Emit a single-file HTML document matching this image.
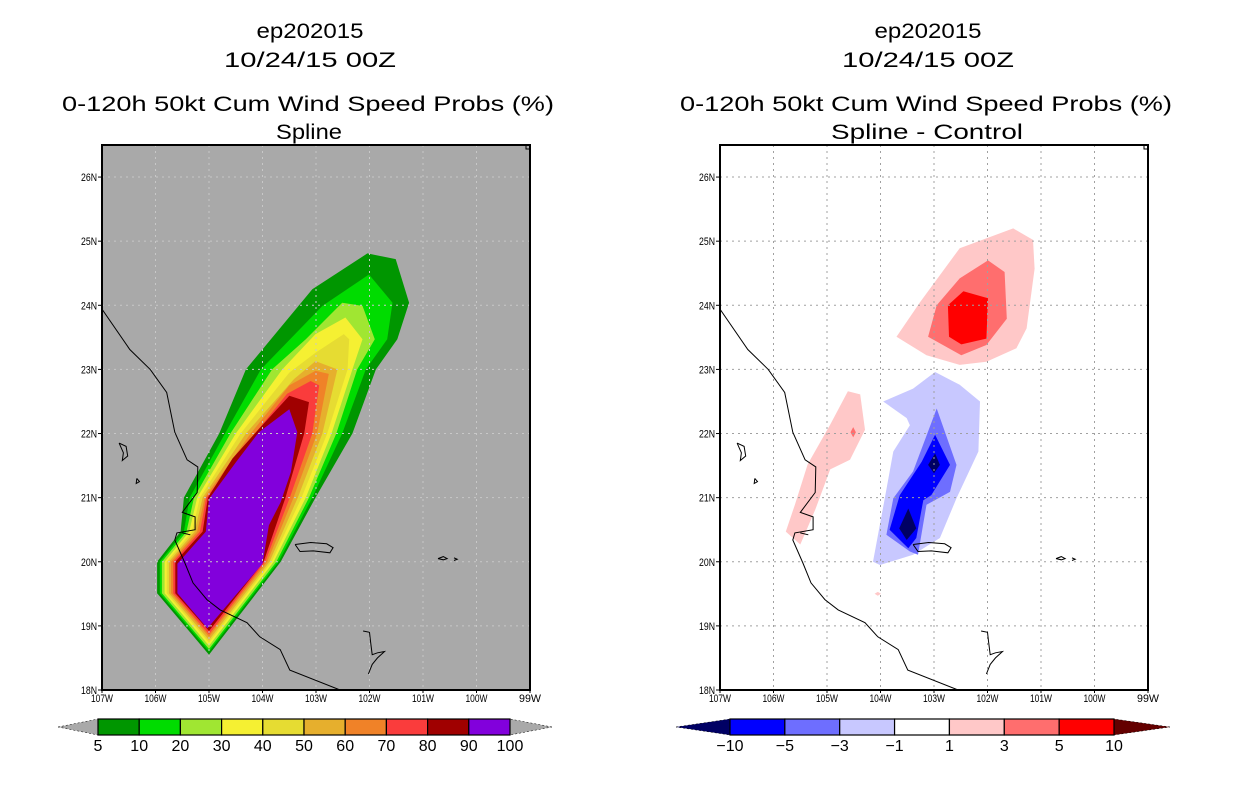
<!DOCTYPE html>
<html><head><meta charset="utf-8"><style>
html,body{margin:0;padding:0;background:#fff;}
svg{display:block;font-family:"Liberation Sans",sans-serif;}
</style></head><body>
<svg id="fig" width="1236" height="800" viewBox="0 0 1236 800" xmlns="http://www.w3.org/2000/svg">
<g text-anchor="middle" font-size="21" fill="#000">
<text x="310" y="38" textLength="107" lengthAdjust="spacingAndGlyphs">ep202015</text>
<text x="310" y="67" textLength="172" lengthAdjust="spacingAndGlyphs">10/24/15 00Z</text>
<text x="308" y="111" textLength="492" lengthAdjust="spacingAndGlyphs">0-120h 50kt Cum Wind Speed Probs (%)</text>
<text x="309" y="139" textLength="66" lengthAdjust="spacingAndGlyphs">Spline</text>
</g>
<g text-anchor="middle" font-size="21" fill="#000">
<text x="928" y="38" textLength="107" lengthAdjust="spacingAndGlyphs">ep202015</text>
<text x="928" y="67" textLength="172" lengthAdjust="spacingAndGlyphs">10/24/15 00Z</text>
<text x="926" y="111" textLength="492" lengthAdjust="spacingAndGlyphs">0-120h 50kt Cum Wind Speed Probs (%)</text>
<text x="927" y="139" textLength="192" lengthAdjust="spacingAndGlyphs">Spline - Control</text>
</g>
<g id="mapL"></g>
<g id="mapR"></g>
<g id="cbL"></g>
<g id="cbR"></g>
</svg>
<script>
// ---------- data ----------
const lonTicks = [-107,-106,-105,-104,-103,-102,-101,-100,-99];
const latTicks = [18,19,20,21,22,23,24,25,26];
const probLevels = [5,10,20,30,40,50,60,70,80,90,100];
const probColors = ["#009600","#00dc00","#a0e632","#f5f032","#e6dc32","#e6af2d","#f08228","#fa3c3c","#a00000","#8200dc"];
// probability contour polygons [lon,lat], >=5, >=10, ... >=90
const prob5 = [[-105.97,20.00],[-105.97,19.51],[-105.0,18.55],[-103.66,20.00],[-103.01,21.00],[-102.32,22.00],[-101.88,23.0],[-101.48,23.47],[-101.26,24.04],[-101.51,24.72],[-102.04,24.81],[-103.07,24.25],[-104.31,23.0],[-104.81,22.00],[-105.47,21.00],[-105.53,20.47]];
const prob10 = [[-105.92,20.00],[-105.92,19.51],[-105.0,18.60],[-103.70,20.00],[-103.07,21.00],[-102.51,22.00],[-102.07,23.0],[-101.67,23.47],[-101.57,24.04],[-102.01,24.48],[-102.88,23.99],[-104.03,23.0],[-104.70,22.00],[-105.36,21.00],[-105.47,20.47]];
const prob20 = [[-105.88,20.00],[-105.88,19.51],[-105.0,18.64],[-103.74,20.00],[-103.13,21.00],[-102.62,22.00],[-102.23,23.0],[-101.90,23.47],[-102.13,23.99],[-102.51,24.04],[-103.19,23.47],[-103.82,23.0],[-104.60,22.00],[-105.28,21.00],[-105.42,20.47]];
const prob30 = [[-105.83,20.00],[-105.83,19.51],[-105.0,18.69],[-103.79,20.00],[-103.19,21.00],[-102.71,22.00],[-102.32,23.0],[-102.13,23.47],[-102.45,23.81],[-103.01,23.55],[-103.63,23.0],[-104.50,22.00],[-105.22,21.00],[-105.37,20.47]];
const prob40 = [[-105.79,20.00],[-105.79,19.51],[-105.0,18.74],[-103.83,20.00],[-103.27,21.00],[-102.79,22.00],[-102.41,23.0],[-102.38,23.47],[-102.48,23.55],[-103.01,23.26],[-103.50,22.95],[-104.41,22.00],[-105.17,21.00],[-105.32,20.47]];
const prob50 = [[-105.75,20.00],[-105.75,19.51],[-105.0,18.78],[-103.87,20.00],[-103.34,21.00],[-102.88,22.00],[-102.60,23.0],[-103.01,23.13],[-103.41,22.85],[-104.31,22.00],[-105.12,21.00],[-105.27,20.47]];
const prob60 = [[-105.71,20.00],[-105.71,19.51],[-105.0,18.83],[-103.91,20.00],[-103.42,21.00],[-102.98,22.00],[-102.76,22.93],[-103.01,22.98],[-103.50,22.75],[-104.22,22.00],[-105.08,21.00],[-105.22,20.47]];
const prob70 = [[-105.67,20.00],[-105.67,19.51],[-105.0,18.87],[-103.95,20.00],[-103.49,21.00],[-103.07,22.00],[-102.94,22.75],[-103.10,22.82],[-103.54,22.62],[-104.14,22.00],[-105.05,21.00],[-105.17,20.47]];
const prob80 = [[-105.63,20.00],[-105.63,19.51],[-105.0,18.92],[-103.98,20.00],[-103.57,21.00],[-103.22,22.00],[-103.13,22.49],[-103.50,22.59],[-104.07,22.07],[-104.56,21.61],[-105.02,21.00],[-105.12,20.47]];
const prob90 = [[-105.59,19.97],[-105.59,19.51],[-105.03,18.96],[-104.0,19.97],[-103.88,20.57],[-103.66,20.93],[-103.47,21.40],[-103.35,22.02],[-103.50,22.38],[-104.07,22.02],[-104.50,21.55],[-105.0,20.98],[-105.06,20.47]];
const probPolys = [prob5,prob10,prob20,prob30,prob40,prob50,prob60,prob70,prob80,prob90];

const diffLevels = [-10,-5,-3,-1,1,3,5,10];
const diffColors = ["#000064","#0000ff","#6e6eff","#c8c8ff","#ffffff","#ffc8c8","#ff6e6e","#ff0000","#640000"];
const diffPos1 = [[-103.70,23.51],[-103.26,24.05],[-102.52,24.89],[-101.52,25.20],[-101.15,25.02],[-101.12,24.57],[-101.27,23.64],[-101.46,23.33],[-102.02,23.12],[-102.52,23.07],[-103.14,23.22]];
const diffPosW = [[-105.77,20.47],[-105.50,20.27],[-105.22,20.81],[-104.94,21.44],[-104.57,21.59],[-104.29,22.06],[-104.38,22.61],[-104.61,22.66],[-104.94,22.14],[-105.36,21.52],[-105.60,20.89]];
const diffPosS = [[-104.05,19.47],[-103.99,19.50],[-104.05,19.53],[-104.11,19.50]];
const diffPos3 = [[-103.11,23.51],[-102.95,24.00],[-102.52,24.42],[-101.99,24.70],[-101.68,24.52],[-101.64,23.79],[-102.02,23.38],[-102.49,23.22]];
const diffPos3W = [[-104.51,22.10],[-104.46,22.02],[-104.51,21.94],[-104.56,22.02]];
const diffPos5 = [[-102.74,24.00],[-102.45,24.22],[-101.99,24.11],[-102.02,23.48],[-102.49,23.39],[-102.72,23.51]];
const diffNeg1 = [[-104.14,20.00],[-103.92,20.99],[-103.76,21.72],[-103.45,22.13],[-103.51,22.24],[-103.95,22.50],[-103.39,22.70],[-102.98,22.96],[-102.52,22.76],[-102.14,22.50],[-102.17,21.72],[-102.58,20.99],[-102.89,20.37],[-103.39,20.11],[-104.01,19.95]];
const diffNeg3 = [[-103.89,20.42],[-103.76,20.99],[-103.39,21.41],[-102.95,22.39],[-102.58,21.51],[-102.70,21.09],[-103.14,20.89],[-103.30,20.11],[-103.45,20.16]];
const diffNeg5 = [[-103.83,20.50],[-103.64,21.04],[-103.23,21.56],[-102.98,21.98],[-102.70,21.51],[-103.05,21.04],[-103.20,20.96],[-103.33,20.37],[-103.48,20.21]];
const diffNeg10a = [[-103.65,20.52],[-103.48,20.83],[-103.33,20.52],[-103.51,20.34]];
const diffNeg10b = [[-103.11,21.51],[-102.98,21.69],[-102.89,21.51],[-103.00,21.38]];
const diffPolys = [[diffPos1,5],[diffPosW,5],[diffPosS,5],[diffPos3,6],[diffPos3W,6],[diffPos5,7],[diffNeg1,3],[diffNeg3,2],[diffNeg5,1],[diffNeg10a,0],[diffNeg10b,0]];

const coast = [[-107.00,23.94],[-106.48,23.31],[-106.10,23.00],[-105.79,22.64],[-105.64,22.02],[-105.41,21.59],[-105.21,21.48],[-105.22,21.08],[-105.50,20.77],[-105.26,20.70],[-105.26,20.50],[-105.60,20.45],[-105.64,20.34],[-105.45,19.98],[-105.30,19.67],[-105.04,19.41],[-104.79,19.25],[-104.29,19.05],[-104.05,18.83],[-103.67,18.63],[-103.49,18.31],[-102.55,18.00]];
const lake = [[-103.39,20.27],[-103.10,20.30],[-102.80,20.28],[-102.68,20.22],[-102.74,20.14],[-103.05,20.17],[-103.30,20.16],[-103.39,20.27]];
const islandA = [[-106.68,21.85],[-106.55,21.80],[-106.52,21.65],[-106.62,21.58],[-106.60,21.70],[-106.68,21.85]];
const islandB = [[-106.35,21.30],[-106.30,21.25],[-106.36,21.22],[-106.35,21.30]];
const islandC = [[-100.72,20.05],[-100.62,20.08],[-100.55,20.05],[-100.62,20.03],[-100.72,20.05]];
const islandD = [[-100.42,20.06],[-100.36,20.04],[-100.42,20.02]];
const islandE = [[-102.12,18.92],[-102.00,18.90],[-101.98,18.75],[-101.95,18.55],[-101.85,18.58],[-101.72,18.60],[-101.85,18.50],[-101.95,18.40],[-102.02,18.25]];
const islandF = [[-105.50,20.45],[-105.35,20.42]];

// ---------- drawing ----------
const NS="http://www.w3.org/2000/svg";
function mk(tag,attrs,parent){const e=document.createElementNS(NS,tag);for(const k in attrs)e.setAttribute(k,attrs[k]);parent.appendChild(e);return e;}
const X0=102, W=428, Y0=145, H=545, LON0=-107, LON1=-99, LAT0=18, LAT1=26.5;
function makeProj(left){return {x:lon=>left+(lon-LON0)/(LON1-LON0)*W, y:lat=>Y0+H-(lat-LAT0)/(LAT1-LAT0)*H};}
function ptsStr(p,arr){return arr.map(d=>p.x(d[0]).toFixed(1)+","+p.y(d[1]).toFixed(1)).join(" ");}

function drawMap(g,left,bg,gridColor,drawFields){
  const p=makeProj(left);
  const clipId="clip"+left;
  const defs=mk("defs",{},g);
  const cp=mk("clipPath",{id:clipId},defs);
  mk("rect",{x:left,y:Y0,width:W,height:H},cp);
  const bgr=mk("rect",{x:left,y:Y0,width:W,height:H,fill:bg},g);
  
  
  const inner=mk("g",{"clip-path":"url(#"+clipId+")"},g);
  drawFields(inner,p);
  // grid
  const grid=mk("g",{stroke:gridColor,"stroke-width":1,"stroke-dasharray":"2,4"},inner);
  
  
  lonTicks.forEach(l=>{if(l>LON0&&l<LON1){mk("line",{x1:p.x(l),x2:p.x(l),y1:Y0,y2:Y0+H},grid);}});
  latTicks.forEach(l=>{if(l>LAT0){mk("line",{x1:left,x2:left+W,y1:p.y(l),y2:p.y(l)},grid);}});
  // coast
  const cg=mk("g",{fill:"none",stroke:"#000","stroke-width":1},inner);
  
  
  [coast,lake,islandA,islandB,islandC,islandD,islandE,islandF].forEach(c=>mk("polyline",{points:ptsStr(p,c)},cg));
  // frame
  const fr=mk("rect",{x:left,y:Y0,width:W,height:H,fill:"none",stroke:"#000","stroke-width":2},g);
  
  
  mk("rect",{x:left+W-4,y:Y0,width:4,height:4,fill:"none",stroke:"#000","stroke-width":1},g);
  // ticks
  const tg=mk("g",{"font-size":11,fill:"#000"},g);
  
  
  lonTicks.forEach(l=>{
    const t=mk("text",{x:p.x(l),y:Y0+H+12,"text-anchor":"middle",textLength:22,lengthAdjust:"spacingAndGlyphs"},tg);
    t.textContent=(-l)+"W";
    
    
    mk("line",{x1:p.x(l),x2:p.x(l),y1:Y0+H,y2:Y0+H+3,stroke:"#000"},tg);
  });
  latTicks.forEach(l=>{
    const t=mk("text",{x:left-5,y:p.y(l)+4,"text-anchor":"end",textLength:16,lengthAdjust:"spacingAndGlyphs"},tg);
    t.textContent=l+"N";
    
    
    mk("line",{x1:left-4,x2:left,y1:p.y(l),y2:p.y(l),stroke:"#000"},tg);
  });
}

drawMap(document.getElementById("mapL"),102,"#a9a9a9","#c8c8c8",(g,p)=>{
  probPolys.forEach((poly,i)=>{
    const e=mk("polygon",{points:ptsStr(p,poly),fill:probColors[i]},g);
    
    
  });
});
drawMap(document.getElementById("mapR"),720,"#ffffff","#a0a0a0",(g,p)=>{
  diffPolys.forEach(([poly,ci])=>{
    const e=mk("polygon",{points:ptsStr(p,poly),fill:diffColors[ci]},g);
    
    
  });
});

function drawBar(g,x0,x1,triL,triR,colors,labels,leftCol,rightCol){
  const y=719,h=16,n=colors.length,w=(x1-x0)/n;
  const lt=mk("polygon",{points:`${triL},${y+h/2} ${x0},${y} ${x0},${y+h}`,fill:leftCol,stroke:"#000","stroke-width":0.5,"stroke-dasharray":"2,2"},g);
  
  
  const rt=mk("polygon",{points:`${triR},${y+h/2} ${x1},${y} ${x1},${y+h}`,fill:rightCol,stroke:"#000","stroke-width":0.5,"stroke-dasharray":"2,2"},g);
  
  
  colors.forEach((c,i)=>{
    const r=mk("rect",{x:x0+i*w,y:y,width:w,height:h,fill:c,stroke:"#000","stroke-width":1.2},g);
    
    
  });
  labels.forEach((l,i)=>{
    const t=mk("text",{x:x0+i*w,y:y+h+16,"text-anchor":"middle","font-size":16,fill:"#000"},g);
    t.textContent=String(l).replace("-","\u2212");
    
    
  });
}
drawBar(document.getElementById("cbL"),98,510,58,552,probColors,probLevels,"#a9a9a9","#a9a9a9");
drawBar(document.getElementById("cbR"),730,1114,676,1170,diffColors.slice(1,8),diffLevels,diffColors[0],diffColors[8]);
</script>
</body></html>
